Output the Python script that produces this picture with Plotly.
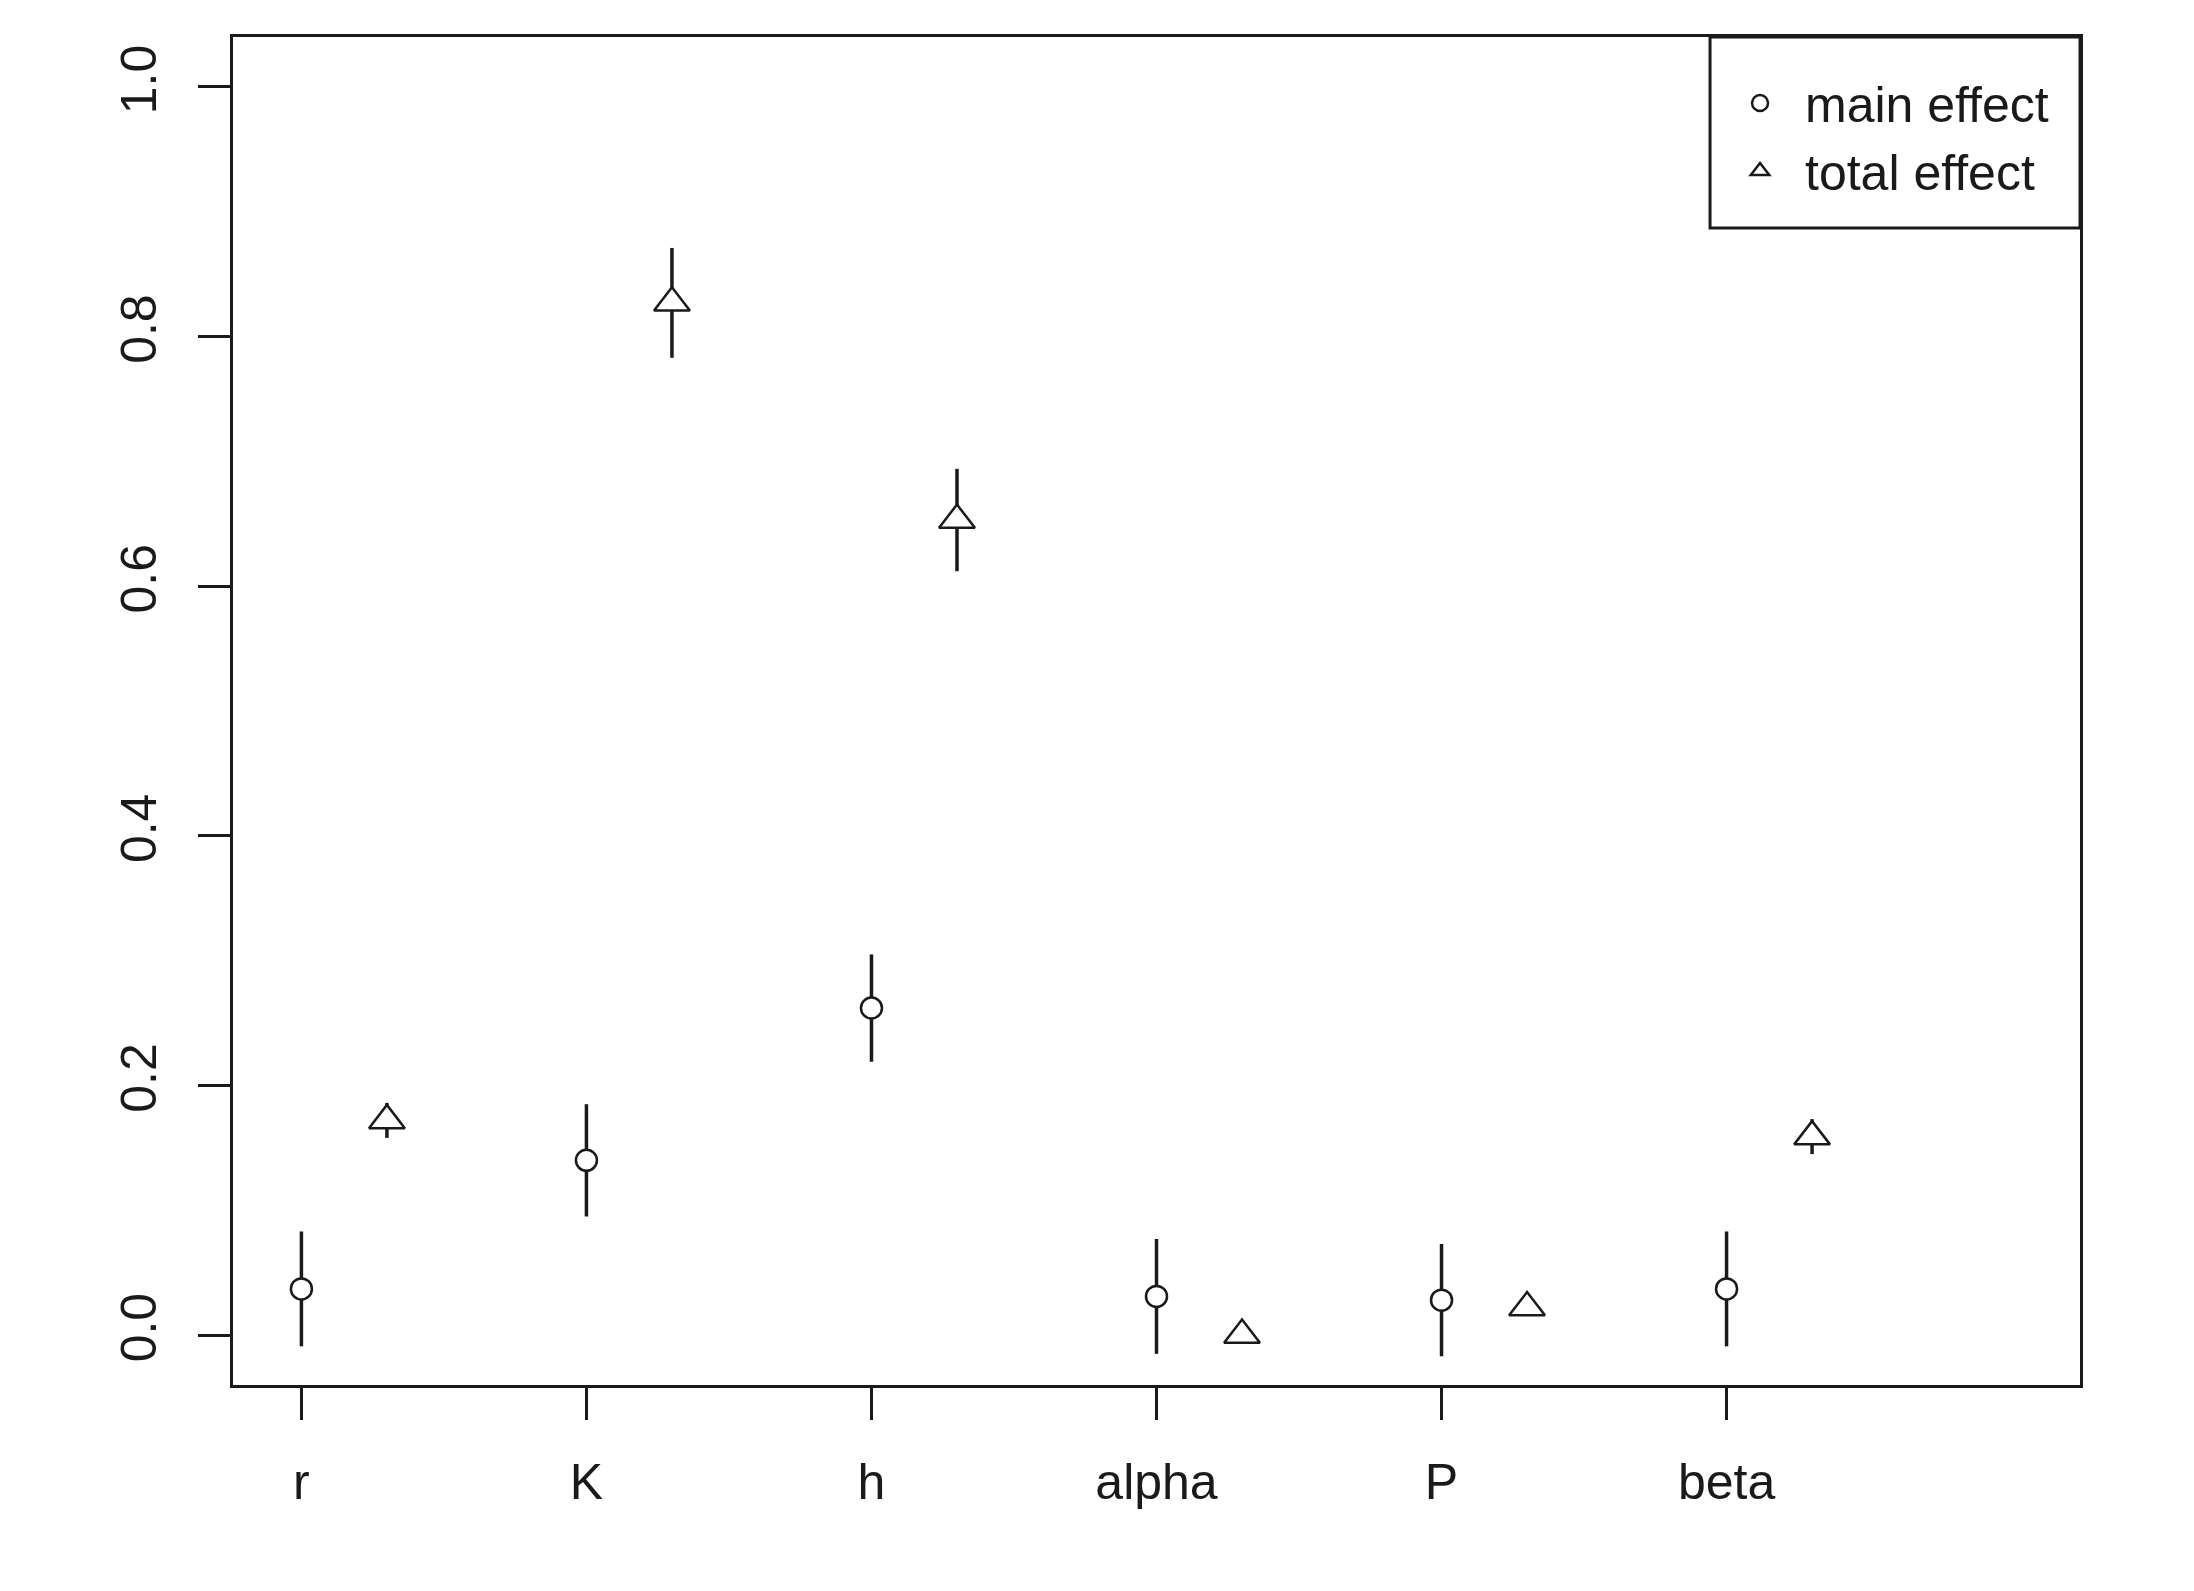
import plotly.graph_objects as go

# parameters and sensitivity indices
params = ["r", "K", "h", "alpha", "P", "beta"]
main_effect = [0.037, 0.140, 0.262, 0.031, 0.028, 0.037]
main_err = [0.046, 0.045, 0.043, 0.046, 0.045, 0.046]
total_effect = [0.172, 0.827, 0.653, 0.000, 0.022, 0.159]
total_err = [0.014, 0.044, 0.041, 0.002, 0.004, 0.014]

FONT = "Liberation Sans, Arial, sans-serif"
INK = "#1a1a1a"

x_main = [i + 1 for i in range(len(params))]
x_total = [i + 1.3 for i in range(len(params))]

fig = go.Figure()

fig.add_trace(go.Scatter(
    x=x_main, y=main_effect, mode="markers", name="main effect",
    marker=dict(symbol="circle", size=21, color="white",
                line=dict(color=INK, width=2.5)),
    error_y=dict(type="data", array=main_err, visible=True,
                 color=INK, thickness=3.5, width=0),
))
fig.add_trace(go.Scatter(
    x=x_total, y=total_effect, mode="markers", name="total effect",
    marker=dict(symbol="triangle-up", size=31, color="white",
                line=dict(color=INK, width=2.5)),
    error_y=dict(type="data", array=total_err, visible=True,
                 color=INK, thickness=3.5, width=0),
))

# legend frame (R style box in the top right corner)
fig.add_shape(type="rect", xref="paper", yref="paper",
              x0=0.7997, x1=1.0, y0=0.8583, y1=1.0,
              line=dict(color=INK, width=3), fillcolor="rgba(0,0,0,0)")

fig.update_layout(
    width=2194, height=1591,
    margin=dict(l=225, r=122, t=29, b=214),
    paper_bgcolor="white", plot_bgcolor="white",
    font=dict(family=FONT, size=50, color=INK),
    showlegend=True,
    legend=dict(x=0.8024, y=0.980, xanchor="left", yanchor="top",
                bgcolor="rgba(0,0,0,0)", borderwidth=0, itemwidth=80,
                font=dict(size=50, family=FONT, color=INK)),
)

fig.update_xaxes(
    range=[0.76, 7.24], tickmode="array", tickvals=x_main, ticktext=params,
    showgrid=False, zeroline=False, showline=True, mirror=True,
    linecolor=INK, linewidth=3, ticks="outside", ticklen=32, tickwidth=3,
    tickcolor=INK, ticklabelstandoff=19,
)
fig.update_yaxes(
    range=[-0.04, 1.04], tickmode="array", tickvals=[0, 0.2, 0.4, 0.6, 0.8, 1.0],
    tickformat=".1f", tickangle=-90,
    showgrid=False, zeroline=False, showline=True, mirror=True,
    linecolor=INK, linewidth=3, ticks="outside", ticklen=32, tickwidth=3,
    tickcolor=INK, ticklabelstandoff=22,
)

fig.write_html("out.html")
